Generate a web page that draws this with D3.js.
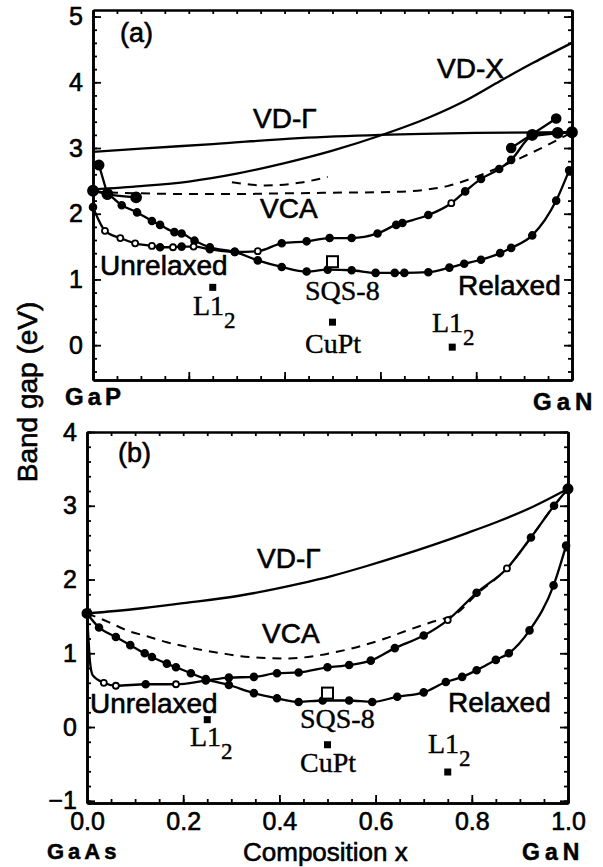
<!DOCTYPE html>
<html>
<head>
<meta charset="utf-8">
<script src="https://cdn.jsdelivr.net/npm/d3@7"></script>
<style>
  html, body { margin: 0; padding: 0; background: #fff; }
  svg { display: block; }
</style>
</head>
<body>
<svg id="chart" width="603" height="867"></svg>
<script>
// ---------- GaP(1-x)N(x) band gaps (eV) vs composition x ----------
const pVdGamma = [[0,2.94],[0.1,2.99],[0.25,3.06],[0.43,3.15],[0.6,3.2],[0.8,3.23],[1,3.24]];
const pVdX = [[0,2.37],[0.1,2.42],[0.2,2.49],[0.3,2.61],[0.4,2.77],[0.5,2.96],[0.6,3.19],[0.7,3.46],[0.78,3.73],[0.85,4.02],[0.92,4.3],[1,4.6]];
const pVca = [[0,2.33],[0.1,2.31],[0.2,2.3],[0.3,2.3],[0.4,2.31],[0.5,2.32],[0.62,2.33],[0.7,2.37],[0.74,2.42],[0.78,2.51],[0.83,2.65],[0.875,2.79],[0.95,3.05],[1,3.24]];
const pVcaUpper = [[0.29,2.48],[0.36,2.43],[0.43,2.47],[0.49,2.56]];
const pRelaxed = [[0,2.35],[0.03,2.3],[0.06,2.13],[0.092,2.02],[0.123,1.89],[0.14,1.83],[0.17,1.72],[0.185,1.7],[0.212,1.59],[0.244,1.49],[0.296,1.42],[0.344,1.29],[0.394,1.19],[0.446,1.12],[0.49,1.15],[0.54,1.14],[0.59,1.1],[0.63,1.1],[0.65,1.1],[0.7,1.11],[0.744,1.18],[0.775,1.24],[0.81,1.3],[0.85,1.4],[0.873,1.48],[0.917,1.67],[0.967,2.2],[0.994,2.66]];
const pUnrelaxed = [[0,2.1],[0.012,1.9],[0.025,1.74],[0.057,1.63],[0.088,1.55],[0.123,1.51],[0.14,1.49],[0.167,1.49],[0.185,1.5],[0.21,1.5],[0.244,1.46],[0.296,1.42],[0.344,1.43],[0.394,1.55],[0.446,1.58],[0.494,1.63],[0.54,1.63],[0.594,1.7],[0.633,1.83],[0.646,1.86],[0.7,1.98],[0.748,2.16],[0.777,2.34],[0.81,2.53],[0.848,2.68],[0.873,2.82],[0.917,3.18],[1,3.24]];
const pUnrelaxedOpen = [0.025,0.057,0.088,0.123,0.167,0.21,0.344,0.748];
const pLeftX = [[0,2.35],[0.03,2.3],[0.09,2.25]];
const pLeftSpike = [[0.0125,2.74],[0.03,2.3]];
const pRightX = [[0.917,3.2],[0.97,3.23],[1,3.24]];
const pRightSpike = [[0.873,3.0],[0.967,3.45]];
const pSqs = [[0.5,1.27]];
const pOrdered = [[0.25,0.88],[0.5,0.35],[0.75,-0.03]];

// ---------- GaAs(1-x)N(x) band gaps (eV) vs composition x ----------
const aVdGamma = [[0,1.54],[0.1,1.6],[0.2,1.68],[0.316,1.78],[0.44,1.94],[0.51,2.05],[0.58,2.18],[0.65,2.32],[0.72,2.47],[0.79,2.63],[0.856,2.79],[0.925,2.98],[1,3.23]];
const aVca = [[0,1.54],[0.046,1.42],[0.083,1.31],[0.125,1.23],[0.166,1.15],[0.206,1.09],[0.243,1.04],[0.28,1.0],[0.32,0.96],[0.36,0.94],[0.42,0.93],[0.47,0.96],[0.52,1.02],[0.57,1.1],[0.62,1.2],[0.67,1.32],[0.72,1.43],[0.77,1.55],[0.81,1.8],[0.873,2.15],[0.923,2.57],[0.971,3.0],[1,3.23]];
const aRelaxed = [[0,1.54],[0.025,1.35],[0.06,1.22],[0.09,1.11],[0.12,1.0],[0.135,0.95],[0.166,0.86],[0.185,0.81],[0.216,0.73],[0.247,0.65],[0.295,0.57],[0.347,0.46],[0.395,0.39],[0.44,0.34],[0.49,0.36],[0.545,0.36],[0.593,0.34],[0.645,0.41],[0.7,0.47],[0.746,0.61],[0.78,0.68],[0.81,0.77],[0.85,0.91],[0.877,1.0],[0.92,1.31],[0.97,1.92],[0.996,2.46]];
const aUnrelaxed = [[0,1.54],[0.003,1.2],[0.006,0.9],[0.012,0.7],[0.035,0.6],[0.06,0.56],[0.122,0.58],[0.185,0.58],[0.247,0.63],[0.295,0.67],[0.347,0.68],[0.395,0.73],[0.44,0.74],[0.5,0.81],[0.545,0.84],[0.59,0.9],[0.64,1.07],[0.7,1.24],[0.75,1.45],[0.81,1.82],[0.873,2.15],[0.923,2.57],[0.971,3.0],[1,3.23]];
const aUnrelaxedOpen = [0.035,0.06,0.185,0.75,0.873];
const aEnds = [[0,1.54],[1,3.23]];
const aSqs = [[0.5,0.46]];
const aOrdered = [[0.25,0.1],[0.5,-0.24],[0.75,-0.61]];

// ---------- axis ticks ----------
const yTicksP = [0,1,2,3,4,5];
const yTicksA = [-1,0,1,2,3,4];
const xTicks = [0,0.2,0.4,0.6,0.8,1.0];

const SANS = "'Liberation Sans', Arial, Helvetica, sans-serif";
const SERIF = "'Liberation Serif', 'Times New Roman', Times, serif";

const svg = d3.select("#chart");
svg.append("rect").attr("width", 603).attr("height", 867).attr("fill", "#fff");

function text(g, str, x, y, o = {}) {
  return g.append("text")
    .attr("x", x).attr("y", y)
    .attr("font-family", o.serif ? SERIF : SANS)
    .attr("font-size", o.size || 28)
    .attr("font-weight", o.bold ? "bold" : "normal")
    .attr("fill", "#000")
    .attr("stroke", "#000")
    .attr("stroke-width", o.stroke != null ? o.stroke : 0.6)
    .attr("letter-spacing", o.spacing || 0)
    .text(str);
}

function l12(g, x, y) {
  const t = text(g, "L1", x, y, { serif: true, size: 28, stroke: 0.4 });
  t.append("tspan").attr("dy", 13).attr("font-size", 23).text("2");
}

function panel(cfg) {
  const g = svg.append("g");
  const x = cfg.x, y = cfg.y;
  const [x0, x1] = x.range();
  const [yb, yt] = y.range();

  // minor and major ticks on all four sides, pointing inward
  const yMinor = d3.range(Math.ceil(y.domain()[0] / 0.2) * 0.2, y.domain()[1] + 1e-6, 0.2);
  const xMinor = d3.range(0, 1.0001, 0.05);
  const style = sel => {
    sel.selectAll("path.domain").attr("stroke-width", 2.6).attr("stroke", "#000");
    sel.selectAll(".tick line").attr("stroke-width", 1.8).attr("stroke", "#000");
  };
  g.append("g").attr("transform", `translate(${x0},0)`)
    .call(d3.axisLeft(y).tickValues(yMinor).tickSize(-4).tickSizeOuter(0).tickFormat("")).call(style);
  g.append("g").attr("transform", `translate(${x1},0)`)
    .call(d3.axisRight(y).tickValues(yMinor).tickSize(-4).tickSizeOuter(0).tickFormat("")).call(style);
  g.append("g").attr("transform", `translate(${x1},0)`)
    .call(d3.axisRight(y).tickValues(cfg.yTicks).tickSize(-8).tickSizeOuter(0).tickFormat("")).call(style);
  const yl = g.append("g").attr("transform", `translate(${x0},0)`)
    .call(d3.axisLeft(y).tickValues(cfg.yTicks).tickSize(-8).tickSizeOuter(0).tickPadding(10).tickFormat(d3.format("d")))
    .call(style);
  yl.selectAll("text").attr("font-size", 25).attr("font-family", SANS)
    .attr("stroke", "#000").attr("stroke-width", 0.6).attr("fill", "#000");
  g.append("g").attr("transform", `translate(0,${yt})`)
    .call(d3.axisTop(x).tickValues(xMinor).tickSize(-4).tickSizeOuter(0).tickFormat("")).call(style);
  g.append("g").attr("transform", `translate(0,${yb})`)
    .call(d3.axisBottom(x).tickValues(xMinor).tickSize(-4).tickSizeOuter(0).tickFormat("")).call(style);
  const xb = g.append("g").attr("transform", `translate(0,${yb})`)
    .call(d3.axisBottom(x).tickValues(xTicks).tickSize(-8).tickSizeOuter(0).tickPadding(9)
      .tickFormat(cfg.xLabels ? d3.format(".1f") : ""))
    .call(style);
  xb.selectAll("text").attr("font-size", 25).attr("font-family", SANS)
    .attr("stroke", "#000").attr("stroke-width", 0.6).attr("fill", "#000");

  const line = d3.line().x(d => x(d[0])).y(d => y(d[1])).curve(d3.curveMonotoneX);
  const curve = (data, dash, w = 2.3) => g.append("path")
    .attr("d", line(data)).attr("fill", "none").attr("stroke", "#000")
    .attr("stroke-width", w).attr("stroke-linejoin", "round")
    .attr("stroke-dasharray", dash || null);
  const dots = (data, r, open = []) => g.append("g").selectAll("circle")
    .data(data).join("circle")
    .attr("cx", d => x(d[0])).attr("cy", d => y(d[1]))
    .attr("r", d => open.includes(d[0]) ? r - 0.4 : r)
    .attr("fill", d => open.includes(d[0]) ? "#fff" : "#000")
    .attr("stroke", "#000").attr("stroke-width", 1.8);

  cfg.draw(curve, dots);

  // ordered structures (filled squares) and SQS-8 (open square)
  g.append("g").selectAll("rect").data(cfg.ordered).join("rect")
    .attr("x", d => x(d[0]) - 3.5).attr("y", d => y(d[1]) - 3.5)
    .attr("width", 7).attr("height", 7).attr("fill", "#000");
  g.append("g").selectAll("rect").data(cfg.sqs).join("rect")
    .attr("x", d => x(d[0]) - 5.5).attr("y", d => y(d[1]) - 5.5)
    .attr("width", 11).attr("height", 11).attr("fill", "#fff")
    .attr("stroke", "#000").attr("stroke-width", 2);
  return g;
}

// the steepest first points of a curve carry no marker
const marked = data => data.filter(d => d[0] === 0 || d[0] > 0.015);

// ----- panel (a): GaP–GaN -----
const ga = panel({
  x: d3.scaleLinear([0, 1], [93, 572]),
  y: d3.scaleLinear([-0.53, 5.1], [380, 10]),
  yTicks: yTicksP, xLabels: false,
  ordered: pOrdered, sqs: pSqs,
  draw: (curve, dots) => {
    curve(pVdGamma);
    curve(pVdX);
    curve(pVca, "9 7", 2);
    curve(pVcaUpper, "9 7", 2);
    curve(pRelaxed);
    curve(pUnrelaxed);
    curve(pLeftX); curve(pLeftSpike);
    curve(pRightX); curve(pRightSpike);
    dots(pRelaxed.slice(1), 3.4);
    dots(marked(pUnrelaxed), 3.4, pUnrelaxedOpen);
    dots(pLeftX, 5); dots(pLeftSpike, 4.6);
    dots(pRightX, 5); dots(pRightSpike, 4.4);
  }
});
text(ga, "(a)", 120, 42, { size: 27 });
text(ga, "VD-X", 437, 78);
text(ga, "VD-\u0393", 253, 128);
text(ga, "VCA", 260, 218);
text(ga, "Unrelaxed", 100, 275);
text(ga, "Relaxed", 458, 295);
text(ga, "SQS-8", 305, 300, { serif: true, stroke: 0.4 });
text(ga, "CuPt", 305, 353, { serif: true, stroke: 0.4 });
l12(ga, 193, 315);
l12(ga, 432, 332);
text(ga, "GaP", 65, 405, { bold: true, size: 24, spacing: 4, stroke: 0.5 });
text(ga, "GaN", 533, 410, { bold: true, size: 24, spacing: 5, stroke: 0.5 });

// ----- panel (b): GaAs–GaN -----
const gb = panel({
  x: d3.scaleLinear([0, 1], [87, 568]),
  y: d3.scaleLinear([-1.03, 4.0], [803, 432]),
  yTicks: yTicksA, xLabels: true,
  ordered: aOrdered, sqs: aSqs,
  draw: (curve, dots) => {
    curve(aVdGamma);
    curve(aVca, "9 7", 2);
    curve(aRelaxed);
    curve(aUnrelaxed);
    dots(aRelaxed, 3.4);
    dots(marked(aUnrelaxed).slice(1), 3.4, aUnrelaxedOpen);
    dots(aEnds, 4.6);
  }
});
text(gb, "(b)", 118, 462, { size: 27 });
text(gb, "VD-\u0393", 257, 568);
text(gb, "VCA", 262, 643);
text(gb, "Unrelaxed", 90, 713);
text(gb, "Relaxed", 448, 712);
text(gb, "SQS-8", 300, 728, { serif: true, stroke: 0.4 });
text(gb, "CuPt", 300, 772, { serif: true, stroke: 0.4 });
l12(gb, 190, 746);
l12(gb, 428, 753);
text(gb, "GaAs", 47, 859, { bold: true, size: 22, spacing: 4, stroke: 0.5 });
text(gb, "GaN", 522, 860, { bold: true, size: 23, spacing: 5, stroke: 0.5 });
text(gb, "Composition x", 243, 861, { size: 26 });

// shared y-axis title
text(svg, "Band gap (eV)", 0, 0)
  .attr("text-anchor", "middle")
  .attr("transform", "translate(37,392) rotate(-90)");
</script>
</body>
</html>
